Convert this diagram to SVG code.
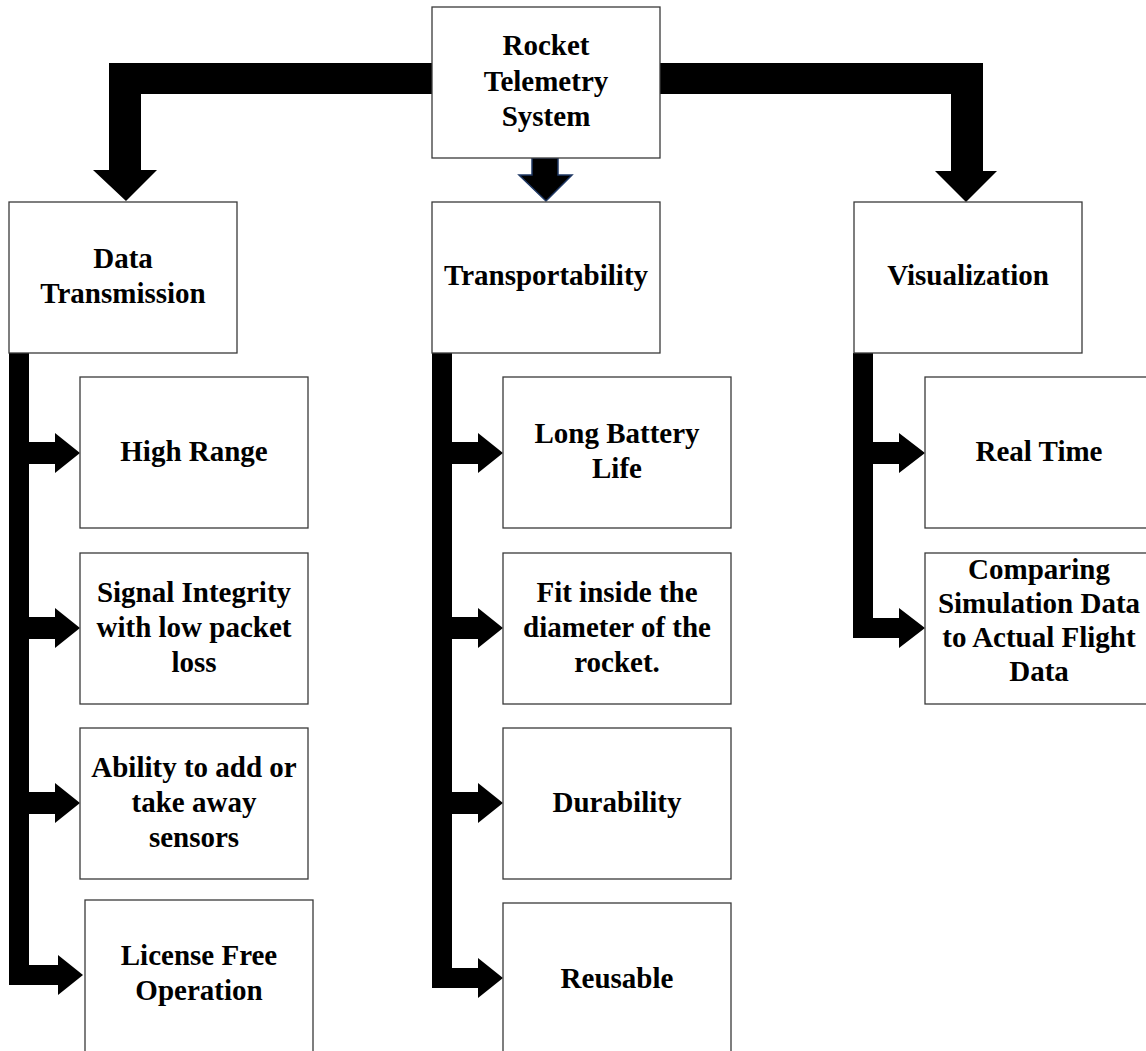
<svg xmlns="http://www.w3.org/2000/svg" width="1146" height="1051" viewBox="0 0 1146 1051">
<style>
.box{fill:#fff;stroke:#3a3a3a;stroke-width:1.3}
.t{font-family:"Liberation Serif","Times New Roman",serif;font-weight:bold;font-size:29px;fill:#000;text-anchor:middle}
.k{fill:#000}
</style>
<rect width="1146" height="1051" fill="#fff"/>
<g id="connectors">
  <polygon class="k" points="432,63 109,63 109,170 93,170 126,201 157,170 141,170 141,94 432,94"/>
  <polygon class="k" points="660,63 983,63 983,171 997,171 966,202 935,171 951,171 951,94 660,94"/>
  <polygon class="k" points="532,158 558,158 558,175 572,175 546,201 519,175 532,175" stroke="#1F3864" stroke-width="1.5" stroke-linejoin="miter"/>
  <!-- column 1 -->
  <polygon class="k" points="9,353 29,353 29,442 55,442 55,433 80,453 55,473 55,464 29,464 29,617 55,617 55,608 80,628 55,648 55,639 29,639 29,792 55,792 55,783 80,803 55,823 55,814 29,814 29,965 58,965 58,955 83,975 58,995 58,985 9,985"/>
  <!-- column 2 -->
  <polygon class="k" points="432,353 452,353 452,442 478,442 478,433 503,453 478,473 478,464 452,464 452,617 478,617 478,608 503,628 478,648 478,639 452,639 452,792 478,792 478,783 503,803 478,823 478,814 452,814 452,968 478,968 478,958 503,978 478,998 478,988 432,988"/>
  <!-- column 3 -->
  <polygon class="k" points="853,353 873,353 873,442 899,442 899,433 925,453 899,473 899,464 873,464 873,618 899,618 899,608 925,628 899,648 899,638 853,638"/>
</g>
<g id="root"><rect class="box" x="432" y="7" width="228" height="151"/>
  <text class="t" x="546" y="55">Rocket</text><text class="t" x="546" y="90.5">Telemetry</text><text class="t" x="546" y="126">System</text></g>
<g id="data-transmission"><rect class="box" x="9" y="202" width="228" height="151"/>
  <text class="t" x="123" y="268">Data</text><text class="t" x="123" y="303">Transmission</text></g>
<g id="transportability"><rect class="box" x="432" y="202" width="228" height="151"/>
  <text class="t" x="546" y="285">Transportability</text></g>
<g id="visualization"><rect class="box" x="854" y="202" width="228" height="151"/>
  <text class="t" x="968" y="285">Visualization</text></g>
<g id="high-range"><rect class="box" x="80" y="377" width="228" height="151"/>
  <text class="t" x="194" y="461">High Range</text></g>
<g id="signal-integrity"><rect class="box" x="80" y="553" width="228" height="151"/>
  <text class="t" x="194" y="602">Signal Integrity</text><text class="t" x="194" y="637">with low packet</text><text class="t" x="194" y="672">loss</text></g>
<g id="ability"><rect class="box" x="80" y="728" width="228" height="151"/>
  <text class="t" x="194" y="777">Ability to add or</text><text class="t" x="194" y="812">take away</text><text class="t" x="194" y="847">sensors</text></g>
<g id="license-free"><rect class="box" x="85" y="900" width="228" height="160"/>
  <text class="t" x="199" y="965">License Free</text><text class="t" x="199" y="1000">Operation</text></g>
<g id="long-battery"><rect class="box" x="503" y="377" width="228" height="151"/>
  <text class="t" x="617" y="443">Long Battery</text><text class="t" x="617" y="478">Life</text></g>
<g id="fit-inside"><rect class="box" x="503" y="553" width="228" height="151"/>
  <text class="t" x="617" y="602">Fit inside the</text><text class="t" x="617" y="637">diameter of the</text><text class="t" x="617" y="672">rocket.</text></g>
<g id="durability"><rect class="box" x="503" y="728" width="228" height="151"/>
  <text class="t" x="617" y="812">Durability</text></g>
<g id="reusable"><rect class="box" x="503" y="903" width="228" height="160"/>
  <text class="t" x="617" y="988">Reusable</text></g>
<g id="real-time"><rect class="box" x="925" y="377" width="228" height="151"/>
  <text class="t" x="1039" y="461">Real Time</text></g>
<g id="comparing"><rect class="box" x="925" y="553" width="228" height="151"/>
  <text class="t" x="1039" y="579">Comparing</text><text class="t" x="1039" y="613">Simulation Data</text><text class="t" x="1039" y="647">to Actual Flight</text><text class="t" x="1039" y="681">Data</text></g>
</svg>
